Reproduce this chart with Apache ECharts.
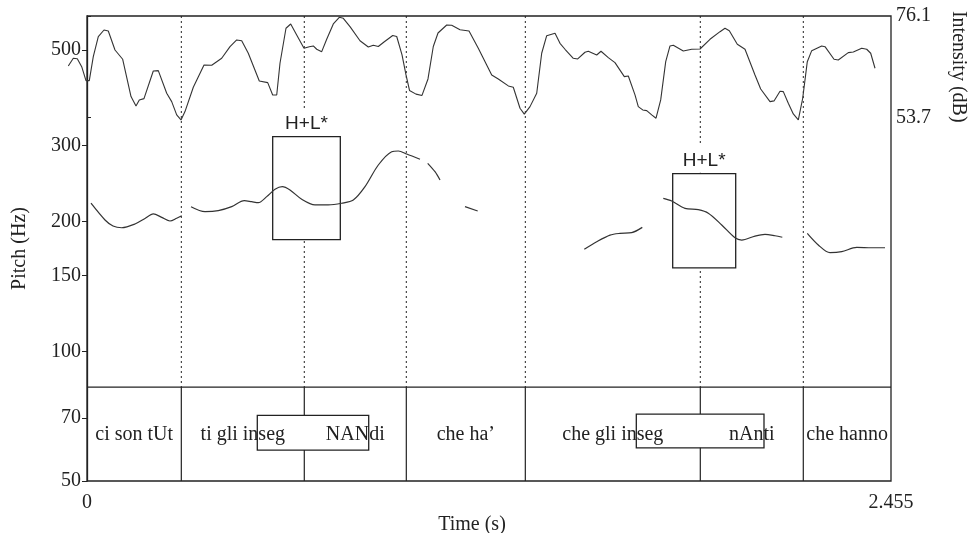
<!DOCTYPE html>
<html>
<head>
<meta charset="utf-8">
<script src="https://cdn.jsdelivr.net/npm/echarts@6/dist/echarts.min.js"></script>
<style>
html,body{margin:0;padding:0;background:#fff;}
#chart{width:968px;height:533px;}
</style>
</head>
<body>
<div id="chart"></div>
<script>
// ---------------- DATA ----------------
const TIME_MIN = 0;
const TIME_MAX = 2.455;
const INTENSITY_TIME_MIN = -0.06;
const PITCH_MIN = 50;
const PITCH_MAX = 600;
const INTENSITY_MIN = 53.7;
const INTENSITY_MAX = 76.1;
const TIER_TOP_HZ = 82.6;

const pitchTicks = [50, 70, 100, 150, 200, 300, 500];
const intensityTicks = [53.7, 76.1];
const timeTicks = [0, 2.455];

// intensity contour [time (s), dB]
const intensityCurve = [
  [-0.0571,65.07],[-0.0418,66.77],[-0.0296,66.68],[-0.0162,64.92],[-0.0031,61.83],
  [0.0070,61.83],[0.0192,67.13],[0.0345,71.54],[0.0519,73.01],[0.0650,72.79],
  [0.0855,68.60],[0.1090,66.55],[0.1344,58.31],[0.1496,56.25],[0.1597,57.58],
  [0.1740,57.86],[0.2024,63.97],[0.2177,64.04],[0.2434,59.06],[0.2586,57.20],
  [0.2739,54.27],[0.2870,53.17],[0.2992,55.00],[0.3246,60.38],[0.3573,65.30],
  [0.3808,65.23],[0.4113,66.77],[0.4367,69.33],[0.4571,70.81],[0.4724,70.65],
  [0.4925,67.88],[0.5261,61.77],[0.5518,61.39],[0.5670,58.68],[0.5793,58.68],
  [0.5893,65.67],[0.6076,73.39],[0.6220,74.34],[0.6403,71.91],[0.6626,68.98],
  [0.6788,69.33],[0.6910,69.49],[0.7014,68.76],[0.7167,68.23],[0.7319,70.96],
  [0.7521,74.34],[0.7704,75.81],[0.7826,75.59],[0.8031,73.74],[0.8336,70.65],
  [0.8590,69.26],[0.8742,69.66],[0.8895,69.37],[0.9069,70.37],[0.9335,71.80],
  [0.9457,71.58],[0.9619,67.50],[0.9741,63.09],[0.9848,59.67],[1.0046,58.86],
  [1.0229,58.57],[1.0412,62.21],[1.0574,69.37],[1.0718,72.35],[1.0984,74.12],
  [1.1136,74.05],[1.1390,73.08],[1.1665,72.79],[1.1948,68.98],[1.2358,63.09],
  [1.2559,62.21],[1.2865,60.67],[1.3017,60.38],[1.3222,55.75],[1.3353,54.43],
  [1.3527,56.10],[1.3732,59.06],[1.3884,67.88],[1.4037,71.76],[1.4291,72.29],
  [1.4443,70.08],[1.4596,68.76],[1.4849,66.77],[1.4984,66.62],[1.5206,68.10],
  [1.5307,68.32],[1.5564,67.50],[1.5695,68.32],[1.5918,66.91],[1.6122,65.80],
  [1.6407,62.72],[1.6529,62.87],[1.6733,58.68],[1.6834,56.10],[1.6968,55.37],
  [1.7091,55.22],[1.7243,54.27],[1.7375,53.54],[1.7518,57.58],[1.7671,66.02],
  [1.7802,69.49],[1.7903,69.64],[1.8208,68.38],[1.8465,68.76],[1.8718,68.82],
  [1.9023,70.96],[1.9329,72.64],[1.9481,73.39],[1.9613,72.86],[1.9857,69.86],
  [2.0092,68.76],[2.0397,63.09],[2.0571,60.00],[2.0855,57.20],[2.0978,57.36],
  [2.1161,59.50],[2.1262,59.41],[2.1414,56.85],[2.1567,54.49],[2.1720,53.17],
  [2.1854,57.95],[2.1994,66.02],[2.2129,68.45],[2.2434,69.49],[2.2535,69.33],
  [2.2810,66.55],[2.2941,66.40],[2.3246,68.01],[2.3399,68.16],[2.3656,68.98],
  [2.3808,68.76],[2.3930,67.88],[2.4062,64.57]
];

// pitch contour, voiced stretches [time (s), Hz]
const pitchSegments = [
  [[0.0122,220.6],[0.0550,201.7],[0.0794,195.3],[0.1060,193.5],[0.1466,197.4],[0.1771,203.3],
   [0.2024,208.3],[0.2281,204.6],[0.2534,200.6],[0.2739,203.6],[0.2892,206.3]],
  [[0.3176,216.6],[0.3603,210.9],[0.4009,212.0],[0.4418,216.6],[0.4803,223.6],[0.5029,222.4],
   [0.5231,221.3],[0.5487,228.5],[0.5741,237.7],[0.5964,241.0],[0.6199,236.7],[0.6556,225.3],
   [0.6962,218.6],[0.7368,218.6],[0.7777,220.6],[0.8132,224.4],[0.8489,241.0],[0.8895,270.6],
   [0.9304,290.5],[0.9506,291.6],[0.9762,287.0],[1.0168,279.0]],
  [[1.0403,273.1],[1.0626,261.1],[1.0779,249.8]],
  [[1.1542,216.6],[1.1930,211.6]],
  [[1.5185,172.5],[1.5564,179.6],[1.5970,186.1],[1.6275,187.8],[1.6632,188.5],[1.6956,193.9]],
  [[1.7597,226.5],[1.7854,223.3],[1.8260,214.7],[1.8666,213.1],[1.8972,209.1],[1.9381,196.4],
   [1.9787,183.4],[1.9991,181.2],[2.0397,185.1],[2.0702,186.8],[2.1008,185.4],[2.1231,183.9]],
  [[2.1994,187.8],[2.2330,176.5],[2.2687,169.4],[2.3045,170.3],[2.3503,174.3],[2.3961,173.9],[2.4367,173.9]]
];

// word tier
const tierStarts = [0, 0.288, 0.6635, 0.975, 1.3384, 1.8727, 2.1872];
const tierEnds   = [0.288, 0.6635, 0.975, 1.3384, 1.8727, 2.1872, 2.455];
const tierWords  = ['ci son tUt', 'ti gli inseg', 'NANdi', 'che ha\u2019', 'che gli inseg', 'nAnti', 'che hanno'];

// pitch accent boxes
const accentLabels = ['H+L*', 'H+L*'];
const accentStart  = [0.567, 1.7884];
const accentEnd    = [0.7735, 1.9808];
const accentLowHz  = [181.6, 156.1];
const accentHighHz = [314.8, 258.3];

// word boxes in the tier
const wordBoxStart  = [0.520, 1.6773];
const wordBoxEnd    = [0.8602, 2.0672];
const wordBoxLowHz  = [59.0, 59.7];
const wordBoxHighHz = [71.0, 71.5];

// ---------------- CHART ----------------
const INK = '#222';
const SERIF = 'Liberation Serif';
const SANS = 'Liberation Sans';

const PLOT_LEFT = 87, PLOT_RIGHT = 77, PLOT_TOP = 16, PLOT_BOTTOM = 52;
const plotWidth = 968 - PLOT_LEFT - PLOT_RIGHT;
const pxPerSecond = plotWidth / (TIME_MAX - TIME_MIN);
const intensityGridLeft = PLOT_LEFT - (TIME_MIN - INTENSITY_TIME_MIN) * pxPerSecond;

const chart = echarts.init(document.getElementById('chart'), null, {renderer: 'canvas'});

function tierLinesRender(params, api) {
  const s = api.value(0), e = api.value(1);
  const pTop = api.coord([s, PITCH_MAX]);
  const pTier = api.coord([s, TIER_TOP_HZ]);
  const pBot = api.coord([s, PITCH_MIN]);
  const pEnd = api.coord([e, TIER_TOP_HZ]);
  const children = [{
    type: 'line',
    shape: {x1: pTier[0], y1: pTier[1], x2: pEnd[0], y2: pEnd[1]},
    style: {stroke: INK, lineWidth: 1.2}
  }];
  if (s > TIME_MIN) {
    children.push({
      type: 'line',
      shape: {x1: pTop[0], y1: pTop[1], x2: pTier[0], y2: pTier[1]},
      style: {stroke: INK, lineWidth: 1, lineDash: [2, 3]}
    });
    children.push({
      type: 'line',
      shape: {x1: pTier[0], y1: pTier[1], x2: pBot[0], y2: pBot[1]},
      style: {stroke: INK, lineWidth: 1.2}
    });
  }
  return {type: 'group', children: children};
}

function tierTextRender(params, api) {
  const s = api.value(0), e = api.value(1);
  const a = api.coord([s, TIER_TOP_HZ]);
  const b = api.coord([e, PITCH_MIN]);
  return {
    type: 'text',
    style: {
      x: (a[0] + b[0]) / 2, y: (a[1] + b[1]) / 2 + 1,
      text: tierWords[params.dataIndex],
      fill: INK, font: '20px "' + SERIF + '"',
      textAlign: 'center', textVerticalAlign: 'middle'
    }
  };
}

function accentRender(params, api) {
  const i = params.dataIndex;
  const p0 = api.coord([api.value(0), api.value(3)]);
  const p1 = api.coord([api.value(1), api.value(2)]);
  const cx = (p0[0] + p1[0]) / 2;
  return {
    type: 'group',
    children: [
      {type: 'rect', shape: {x: cx - 27, y: p0[1] - 28, width: 54, height: 27}, style: {fill: '#fff'}},
      {type: 'rect', shape: {x: p0[0], y: p0[1], width: p1[0] - p0[0], height: p1[1] - p0[1]},
       style: {fill: '#fff', stroke: INK, lineWidth: 1.3}},
      {type: 'text', style: {x: cx, y: p0[1] - 13, text: accentLabels[i], fill: INK,
        font: '19px "' + SANS + '"', textAlign: 'center', textVerticalAlign: 'middle'}}
    ]
  };
}

function wordBoxRender(params, api) {
  const p0 = api.coord([api.value(0), api.value(3)]);
  const p1 = api.coord([api.value(1), api.value(2)]);
  return {
    type: 'rect',
    shape: {x: p0[0], y: p0[1], width: p1[0] - p0[0], height: p1[1] - p0[1]},
    style: {fill: '#fff', stroke: INK, lineWidth: 1.3}
  };
}

const series = [
  {type: 'custom', name: 'tierLines', xAxisIndex: 0, yAxisIndex: 0, z: 1, silent: true,
   renderItem: tierLinesRender,
   data: tierStarts.map((s, i) => [s, tierEnds[i]])},
  {type: 'custom', name: 'accents', xAxisIndex: 0, yAxisIndex: 0, z: 2, silent: true,
   renderItem: accentRender,
   data: accentStart.map((s, i) => [s, accentEnd[i], accentLowHz[i], accentHighHz[i]])},
  {type: 'custom', name: 'wordBoxes', xAxisIndex: 0, yAxisIndex: 0, z: 2, silent: true,
   renderItem: wordBoxRender,
   data: wordBoxStart.map((s, i) => [s, wordBoxEnd[i], wordBoxLowHz[i], wordBoxHighHz[i]])},
  {type: 'custom', name: 'tierText', xAxisIndex: 0, yAxisIndex: 0, z: 3, silent: true,
   renderItem: tierTextRender,
   data: tierStarts.map((s, i) => [s, tierEnds[i]])},
  {type: 'line', name: 'intensity', xAxisIndex: 1, yAxisIndex: 1, z: 4, silent: true,
   data: intensityCurve, showSymbol: false, clip: false,
   lineStyle: {color: '#333', width: 1.1}}
];
pitchSegments.forEach((seg, k) => {
  series.push({type: 'line', name: 'pitch' + k, xAxisIndex: 0, yAxisIndex: 0, z: 4, silent: true,
    data: seg, showSymbol: false, smooth: 0.3, clip: false,
    lineStyle: {color: '#333', width: 1.2}});
});

const option = {
  animation: false,
  backgroundColor: '#fff',
  grid: [
    {left: PLOT_LEFT, right: PLOT_RIGHT, top: PLOT_TOP, bottom: PLOT_BOTTOM, containLabel: false, outerBoundsMode: 'none',
     show: true, borderColor: INK, borderWidth: 1.3, backgroundColor: 'transparent'},
    {left: intensityGridLeft, right: PLOT_RIGHT, top: PLOT_TOP, height: 101.5, containLabel: false, outerBoundsMode: 'none', show: false}
  ],
  xAxis: [
    {type: 'value', gridIndex: 0, min: TIME_MIN, max: TIME_MAX,
     axisLine: {show: false}, axisTick: {show: false}, splitLine: {show: false},
     axisLabel: {customValues: timeTicks, margin: 12, color: INK, fontFamily: SERIF, fontSize: 20,
       formatter: v => (v === 0 ? '0' : String(v))},
     name: 'Time (s)', nameLocation: 'middle', nameGap: 34, nameMoveOverlap: false,
     nameTextStyle: {color: INK, fontFamily: SERIF, fontSize: 20, padding: [0, 34, 0, 0]}},
    {type: 'value', gridIndex: 1, min: INTENSITY_TIME_MIN, max: TIME_MAX, show: false}
  ],
  yAxis: [
    {type: 'log', logBase: 10, gridIndex: 0, min: PITCH_MIN, max: PITCH_MAX,
     axisLine: {show: true, lineStyle: {color: INK, width: 1.3}},
     axisTick: {show: true, customValues: pitchTicks, length: 5, lineStyle: {color: INK}},
     axisLabel: {customValues: pitchTicks, margin: 6, color: INK, fontFamily: SERIF, fontSize: 20},
     splitLine: {show: false},
     name: 'Pitch (Hz)', nameLocation: 'middle', nameRotate: 90, nameGap: 57, nameMoveOverlap: false,
     nameTextStyle: {color: INK, fontFamily: SERIF, fontSize: 20}},
    {type: 'value', gridIndex: 1, position: 'right', min: INTENSITY_MIN, max: INTENSITY_MAX,
     axisLine: {show: false},
     axisTick: {show: true, customValues: intensityTicks, length: 4, lineStyle: {color: INK}},
     axisLabel: {customValues: intensityTicks, margin: 5, color: INK, fontFamily: SERIF, fontSize: 20},
     splitLine: {show: false},
     name: 'Intensity (dB)', nameLocation: 'middle', nameRotate: -90, nameGap: 57, nameMoveOverlap: false,
     nameTextStyle: {color: INK, fontFamily: SERIF, fontSize: 20}}
  ],
  series: series
};
chart.setOption(option);
</script>
</body>
</html>
